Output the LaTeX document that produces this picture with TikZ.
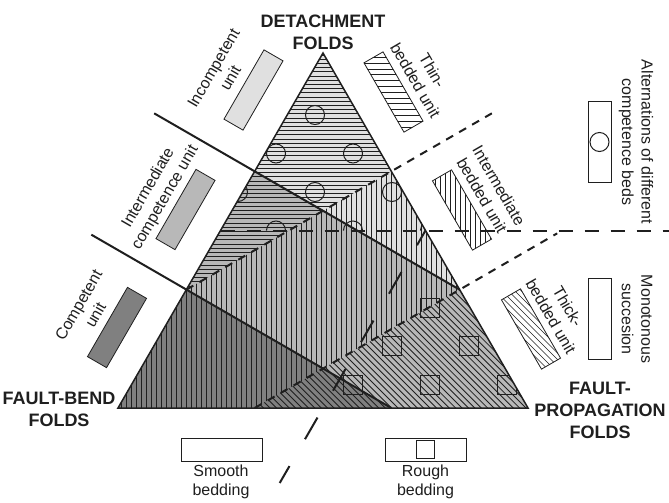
\documentclass[tikz,border=0pt]{standalone}
\usepackage{fontspec}
\setmainfont{Liberation Sans}
\usetikzlibrary{calc}
\definecolor{lightg}{gray}{0.88}
\definecolor{midg}{gray}{0.72}
\definecolor{darkg}{gray}{0.50}
\definecolor{inkc}{gray}{0.12}
\begin{document}
\begin{tikzpicture}[x=1pt,y=-1pt,
  hatch/.style={line width=0.85pt, inkc},
  lhatch/.style={line width=0.7pt, inkc},
  solidline/.style={line width=2pt, inkc},
  shortdash/.style={line width=2pt, inkc, dash pattern=on 8pt off 7pt},
  middash/.style={line width=2pt, inkc, dash pattern=on 14pt off 12pt},
  longdash/.style={line width=2pt, inkc, dash pattern=on 25pt off 31pt, dash phase=8pt},
  symb/.style={line width=1pt, inkc},
  titletext/.style={font=\bfseries\fontsize{18}{22}\selectfont, align=center, inner sep=0pt, text=inkc},
  labtext/.style={font=\fontsize{16}{19.5}\selectfont, align=center, inner sep=0pt, text=inkc},
  legbox/.style={draw=inkc, line width=0.8pt, minimum width=80pt, minimum height=22pt, inner sep=0pt},
  vbox/.style={draw=inkc, line width=0.8pt, minimum width=23pt, minimum height=81pt, inner sep=0pt}
]
\fill[white] (0,0) rectangle (669,503);
\useasboundingbox (0,0) rectangle (669,503);

% key points of the triangle
\coordinate (A) at (323,53);
\coordinate (BL) at (118,408);
\coordinate (BR) at (528,408);
\coordinate (L1) at (254.67,171.33);
\coordinate (L2) at (186.33,289.67);
\coordinate (Lm) at (220.5,230.5);
\coordinate (R1) at (391.33,171.33);
\coordinate (R2) at (459.67,289.67);
\coordinate (Rm) at (425.5,230.5);
\coordinate (B1) at (254.67,408);
\coordinate (B2) at (391.33,408);
\coordinate (Bm) at (323,408);
\coordinate (L1o) at ($(L1)+(-100.5,-58)$);
\coordinate (L2o) at ($(L2)+(-95,-55)$);
\coordinate (R1o) at ($(R1)+(100.5,-58)$);
\coordinate (R2o) at ($(R2)+(97.5,-56.3)$);
\coordinate (Hend) at (669,230.5);
\coordinate (Bo) at (279.7,483);

% competence backgrounds
\fill[lightg] (A)--(L1)--(R2)--cycle;
\fill[midg] (L1)--(L2)--(B2)--(BR)--(R2)--cycle;
\fill[darkg] (L2)--(BL)--(B2)--cycle;

% bedding hatches
\begin{scope}
  \clip (A)--(L2)--(R1)--cycle;
  \foreach \y in {55.1,59.3,...,295} \draw[hatch] (170,\y)--(400,\y);
\end{scope}
\begin{scope}
  \clip (L2)--(BL)--(B1)--(R2)--(R1)--cycle;
  \foreach \x in {116,121,...,465} \draw[hatch] (\x,160)--(\x,412);
\end{scope}
\begin{scope}
  \clip (B1)--(BR)--(R2)--cycle;
  \foreach \c in {-170,-163.6,...,250} \draw[hatch] ({\c+270},270)--({\c+415},415);
\end{scope}

% circles and squares
\begin{scope}
  \clip (A)--(Lm)--(Rm)--cycle;
  \foreach \p in {(315,115),(276,153.5),(353,153.5),(238,192),(315,192),(392,192),(276,230.5),(353,230.5),(430,230.5)}
    \draw[symb] \p circle (9.5);
\end{scope}
\begin{scope}
  \clip (A)--(BL)--(BR)--cycle;
  \foreach \p in {(430,307.5),(392,346),(469,346),(353,384.5),(430,384.5),(507,384.5)}
    \draw[symb] \p ++(-9.5,-9.5) rectangle ++(19,19);
\end{scope}

% triangle outline
\draw[line width=1.5pt, inkc, line join=miter] (A)--(BL)--(BR)--cycle;

% boundaries
\draw[solidline] (L1o) -- (R2);
\draw[solidline] (L2o) -- (B2);
\draw[shortdash] (L2) -- (R1o);
\draw[shortdash] (B1) -- (R2o);
\draw[middash] (Lm) -- (Hend);
\draw[longdash] (Rm) -- (Bo);

% left legend boxes
\node[legbox, fill=lightg, rotate=60] (bx1) at (253.5,90) {};
\node[legbox, fill=midg, rotate=60] (bx2) at (185.5,209.5) {};
\node[legbox, fill=darkg, rotate=60] (bx3) at (117,327.5) {};

% right legend boxes (hatched)
\begin{scope}[shift={(393.5,92)}, rotate=-60]
  \coordinate (a1) at (-40,-11); \coordinate (a2) at (40,-11);
  \coordinate (a3) at (40,11); \coordinate (a4) at (-40,11);
\end{scope}
\begin{scope}
  \clip (a1)--(a2)--(a3)--(a4)--cycle;
  \foreach \y in {40,45.8,...,145} \draw[lhatch] (350,\y)--(440,\y);
\end{scope}
\node[legbox, rotate=-60] (bx4) at (393.5,92) {};

\begin{scope}[shift={(462,210)}, rotate=-60]
  \coordinate (b1) at (-40,-11); \coordinate (b2) at (40,-11);
  \coordinate (b3) at (40,11); \coordinate (b4) at (-40,11);
\end{scope}
\begin{scope}
  \clip (b1)--(b2)--(b3)--(b4)--cycle;
  \foreach \x in {420,425,...,505} \draw[lhatch] (\x,160)--(\x,260);
\end{scope}
\node[legbox, rotate=-60] (bx5) at (462,210) {};

\begin{scope}[shift={(531,329)}, rotate=-60]
  \coordinate (c1) at (-40,-11); \coordinate (c2) at (40,-11);
  \coordinate (c3) at (40,11); \coordinate (c4) at (-40,11);
\end{scope}
\begin{scope}
  \clip (c1)--(c2)--(c3)--(c4)--cycle;
  \foreach \c in {120,126.5,...,300} \draw[lhatch] ({\c+270},270)--({\c+390},390);
\end{scope}
\node[legbox, rotate=-60] (bx6) at (531,329) {};

% far right boxes
\node[vbox] (bx7) at (599.5,142) {};
\node[draw=inkc, line width=1pt, circle, minimum size=19pt, inner sep=0pt] (cr7) at (bx7.center) {};
\node[vbox] (bx8) at (600,319) {};

% bottom boxes
\node[legbox, minimum width=81pt, minimum height=23pt] (bx9) at (221.5,449.5) {};
\node[legbox, minimum width=81pt, minimum height=23pt] (bx10) at (425.5,449.5) {};
\node[draw=inkc, line width=1pt, minimum size=18pt, inner sep=0pt] (sq10) at (bx10.center) {};

% titles
\node[titletext] (tdet) at (323,32.5) {DETACHMENT\\FOLDS};
\node[titletext] (tfb) at (59,409) {FAULT-BEND\\FOLDS};
\node[titletext] (tfp) at (600,410.5) {FAULT-\\PROPAGATION\\FOLDS};

% labels
\node[labtext, rotate=60] (l1) at (222,73) {Incompetent\\unit};
\node[labtext, rotate=60] (l2) at (157,193) {Intermediate\\competence unit};
\node[labtext, rotate=60] (l3) at (87,310) {Competent\\unit};
\node[labtext, rotate=-60] (l4) at (424,75.5) {Thin-\\bedded unit};
\node[labtext, rotate=-60] (l5) at (490.5,190.5) {Intermediate\\bedded unit};
\node[labtext, rotate=-60] (l6) at (559.5,311.5) {Thick-\\bedded unit};
\node[labtext, rotate=-90] (l7) at (636,142) {Alternations of different\\competence beds};
\node[labtext, rotate=-90] (l8) at (637,319) {Monotonous\\succesion};
\node[labtext] (l9) at (221,482) {Smooth\\bedding};
\node[labtext] (l10) at (425.5,482) {Rough\\bedding};
\end{tikzpicture}
\end{document}
